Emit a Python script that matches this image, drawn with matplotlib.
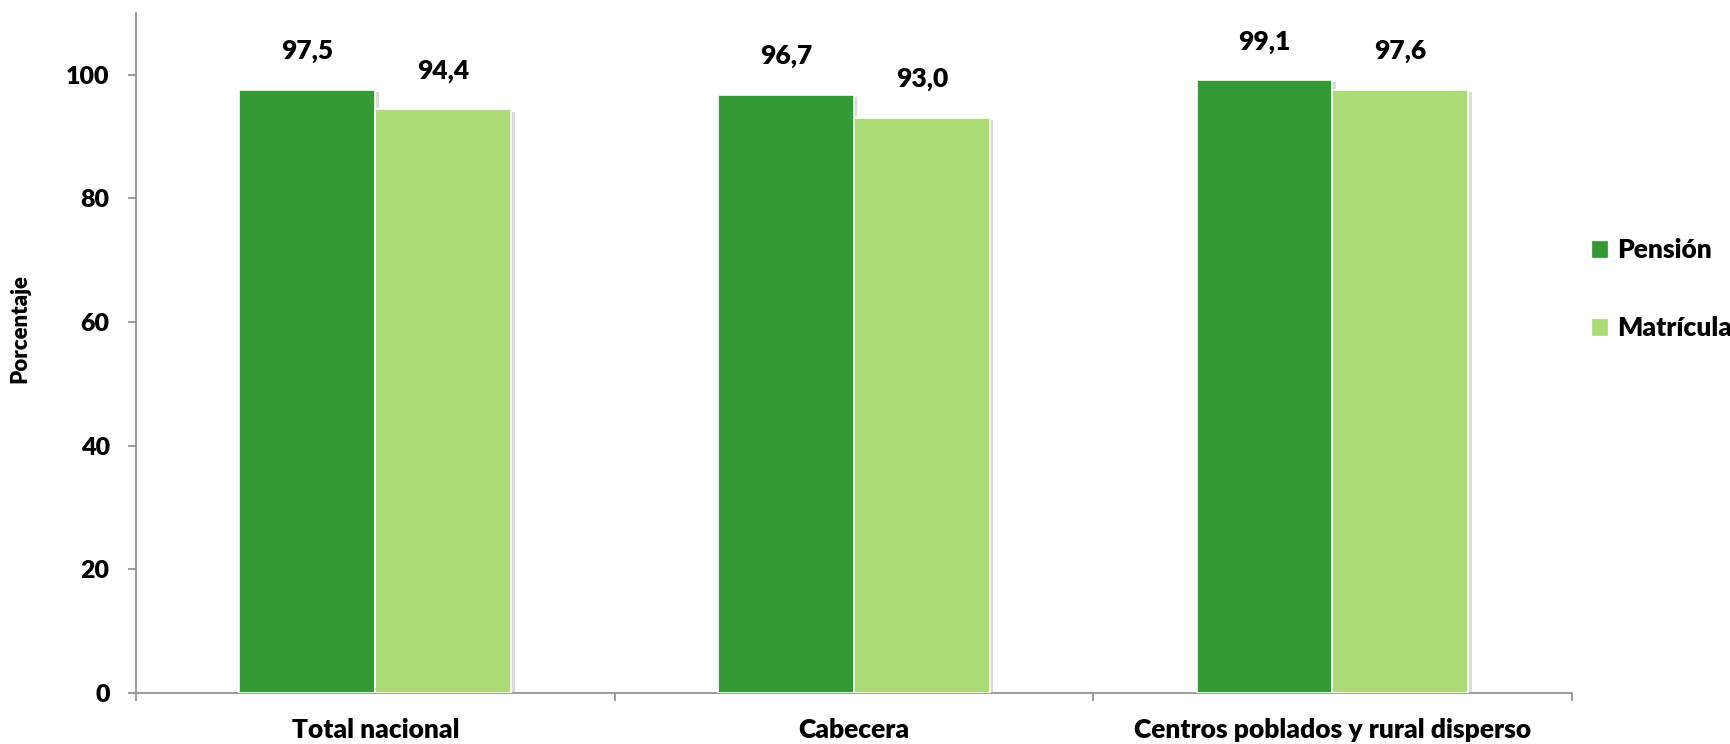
import matplotlib
matplotlib.use("Agg")
import matplotlib.pyplot as plt
import matplotlib.patheffects as pe
from matplotlib.patches import Rectangle
import numpy as np

categories = ["Total nacional", "Cabecera", "Centros poblados y rural disperso"]
pension = [97.5, 96.7, 99.1]
matricula = [94.4, 93.0, 97.6]
series_names = ["Pensión", "Matrícula"]
pension_labels = ["97,5", "96,7", "99,1"]
matricula_labels = ["94,4", "93,0", "97,6"]
yticks = [0, 20, 40, 60, 80, 100]

c_dark = "#359A35"
c_light = "#ABDA77"
axis_c = "#8C8C8C"
W = 'heavy'

plt.rcParams['font.family'] = ['Lato', 'DejaVu Sans']
plt.rcParams['font.weight'] = W

fig = plt.figure(figsize=(17.31, 7.44), dpi=100)
ax = fig.add_axes([0.0786, 0.0685, 0.908 - 0.0786, 0.9825 - 0.0685])

x = np.arange(len(categories))
w = 0.284
shadow = [pe.SimplePatchShadow(offset=(2.5, -1.5), shadow_rgbFace='#999999', alpha=0.35), pe.Normal()]
b1 = ax.bar(x - w / 2, pension, w, color=c_dark, edgecolor='white', linewidth=1.2, zorder=3)
b2 = ax.bar(x + w / 2, matricula, w, color=c_light, edgecolor='white', linewidth=1.2, zorder=3)
for b in list(b1) + list(b2):
    b.set_path_effects(shadow)

for xi, v, t in zip(x - w / 2, pension, pension_labels):
    ax.annotate(t, (xi, v), xytext=(0, 28), textcoords='offset points', ha='center', va='center',
                fontsize=19, fontweight=W)
for xi, v, t in zip(x + w / 2, matricula, matricula_labels):
    ax.annotate(t, (xi, v), xytext=(0, 28), textcoords='offset points', ha='center', va='center',
                fontsize=19, fontweight=W)

ax.set_xlim(-0.5, len(categories) - 0.5)
ax.set_ylim(0, 110)
ax.set_yticks(yticks)
ax.set_yticklabels([str(t) for t in yticks], fontsize=18, fontweight=W)

ax.set_xticks(np.arange(len(categories) + 1) - 0.5)
ax.set_xticklabels([])
ax.set_xticks(x, minor=True)
ax.set_xticklabels(categories, minor=True, fontsize=19, fontweight=W)
ax.tick_params(axis='x', which='minor', length=0, pad=18)
ax.tick_params(axis='x', which='major', length=6, width=1.2, color=axis_c, direction='out')
ax.tick_params(axis='y', length=6, width=1.2, color=axis_c, pad=13)

for s in ['top', 'right']:
    ax.spines[s].set_visible(False)
for s in ['left', 'bottom']:
    ax.spines[s].set_color(axis_c)
    ax.spines[s].set_linewidth(1.2)

fig.text(20 / 1731, 1 - 329 / 744, "Porcentaje", rotation=90, ha='center', va='center',
         fontsize=16, fontweight=W)

handles = [Rectangle((0, 0), 1, 1, facecolor=c_dark, edgecolor=c_dark, linewidth=0.5),
           Rectangle((0, 0), 1, 1, facecolor=c_light, edgecolor=c_light, linewidth=0.5)]
fig.legend(handles, series_names, loc='center left', bbox_to_anchor=(0.906, 0.611),
           frameon=False, handlelength=0.55, handleheight=0.55, handletextpad=0.4,
           labelspacing=2.05, prop={'weight': W, 'size': 19})

fig.savefig("out.png", dpi=100)
